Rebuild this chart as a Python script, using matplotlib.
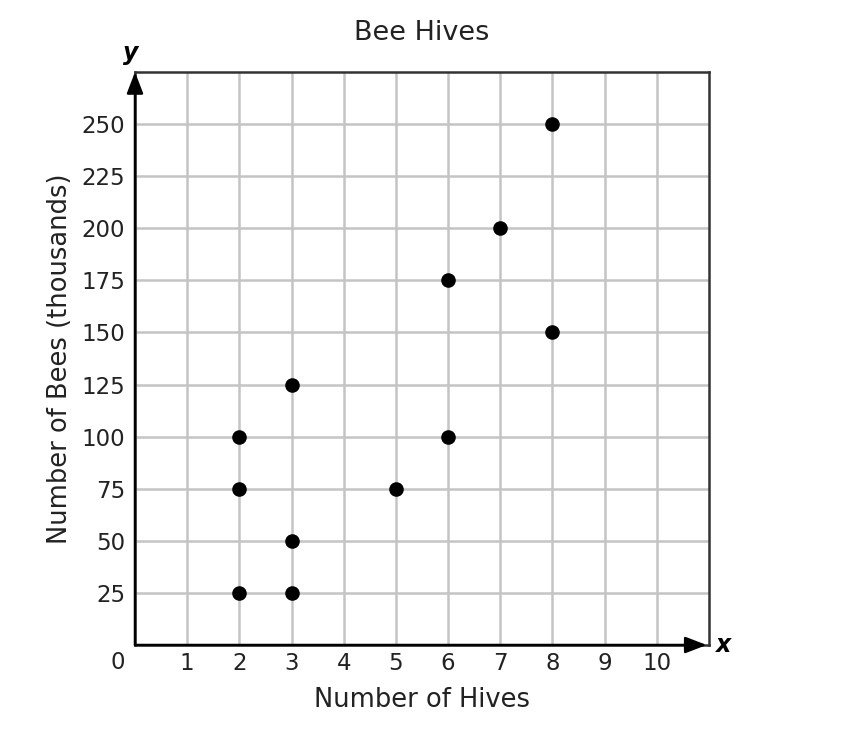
import matplotlib
matplotlib.use("Agg")
import matplotlib.pyplot as plt

hives = [2, 2, 2, 3, 3, 3, 5, 6, 6, 7, 8, 8]
bees = [25, 75, 100, 25, 50, 125, 75, 100, 175, 200, 150, 250]
x_ticks = [1, 2, 3, 4, 5, 6, 7, 8, 9, 10]
y_ticks = [25, 50, 75, 100, 125, 150, 175, 200, 225, 250]

plt.rcParams['font.family'] = ['DejaVu Sans']
fig = plt.figure(figsize=(8.44, 7.4), dpi=100)
ax = fig.add_axes([135/844, 1-645/740, (709-135)/844, (645-72)/740])
ax.set_xlim(0, 11)
ax.set_ylim(0, 275)
ax.set_xticks(x_ticks)
ax.set_yticks(y_ticks)
ax.tick_params(axis='x', length=0, labelsize=16.5, colors='#222222', pad=5)
ax.tick_params(axis='y', length=0, labelsize=16.5, colors='#222222', pad=7)
ax.grid(True, color='#c4c4c4', linewidth=1.8)
ax.set_axisbelow(True)
for s in ax.spines.values():
    s.set_color('#333333')
    s.set_linewidth(1.8)

ax.scatter(hives, bees, s=90, color='black', zorder=5)

# axis arrows
astyle = '-|>,head_width=0.25,head_length=0.65'
ax.annotate('', xy=(0, 1), xytext=(0, 0), xycoords='axes fraction',
            arrowprops=dict(arrowstyle=astyle, color='black', lw=1.8,
                            mutation_scale=20, shrinkA=0, shrinkB=0), zorder=6)
ax.annotate('', xy=(0.996, 0), xytext=(0, 0), xycoords='axes fraction',
            arrowprops=dict(arrowstyle=astyle, color='black', lw=1.8,
                            mutation_scale=20, shrinkA=0, shrinkB=0), zorder=6)

ax.text(-0.0296, -0.03, '0', transform=ax.transAxes, ha='center', va='center',
        fontsize=16.5, color='#222222')
ax.text(-0.008, 1.012, 'y', transform=ax.transAxes, ha='center', va='bottom',
        fontsize=17, fontstyle='italic', fontweight='bold')
ax.text(1.012, 0.0, 'x', transform=ax.transAxes, ha='left', va='center',
        fontsize=17, fontstyle='italic', fontweight='bold')

ax.set_title('Bee Hives', fontsize=19.5, color='#222222', pad=23)
ax.set_xlabel('Number of Hives', fontsize=18.5, color='#222222', labelpad=9)
ax.set_ylabel('Number of Bees (thousands)', fontsize=18.5, color='#222222', labelpad=6)

fig.savefig('out.png', dpi=100, facecolor='white')
